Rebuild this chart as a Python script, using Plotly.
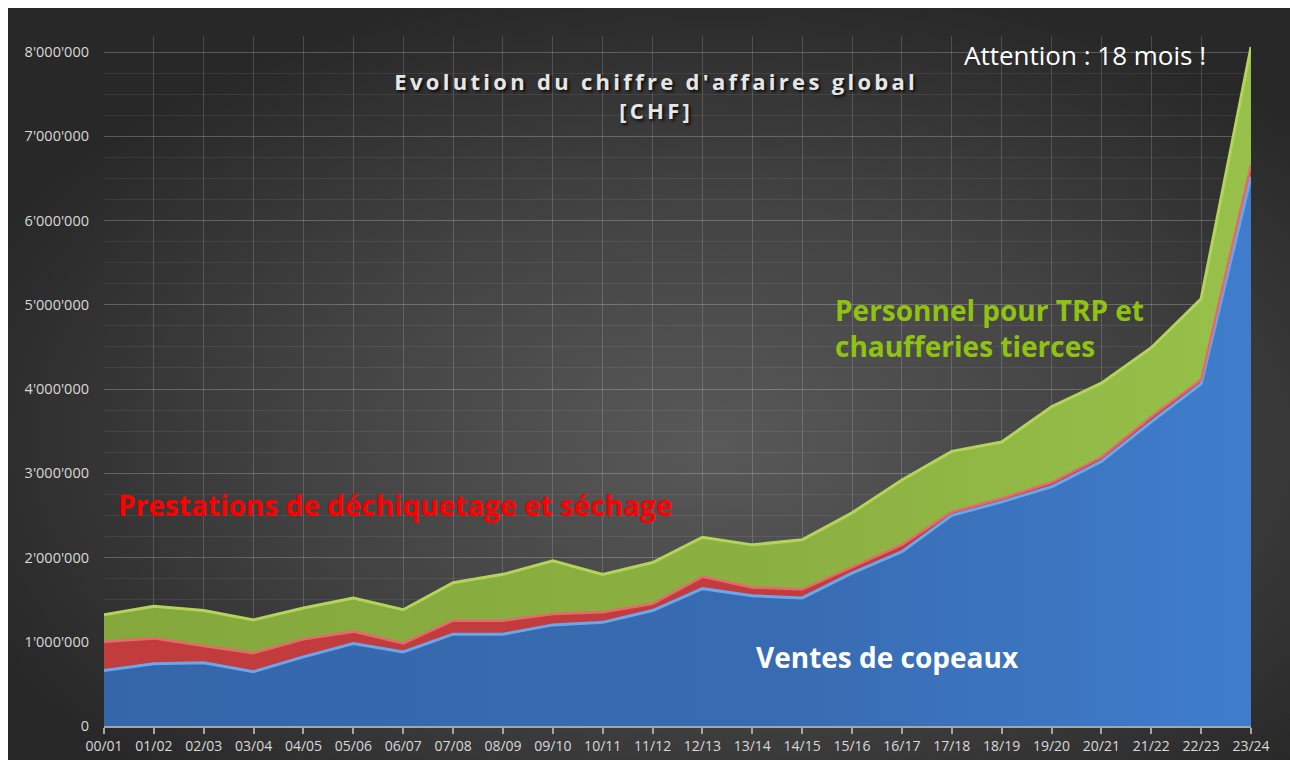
import base64
import plotly.graph_objects as go

# ---------------- data ----------------
seasons = ["00/01", "01/02", "02/03", "03/04", "04/05", "05/06", "06/07", "07/08",
           "08/09", "09/10", "10/11", "11/12", "12/13", "13/14", "14/15", "15/16",
           "16/17", "17/18", "18/19", "19/20", "20/21", "21/22", "22/23", "23/24"]

ventes_copeaux = [660000, 740000, 750000, 645000, 820000, 980000, 880000, 1090000,
                  1090000, 1200000, 1230000, 1370000, 1630000, 1545000, 1520000, 1815000,
                  2070000, 2500000, 2660000, 2840000, 3140000, 3610000, 4060000, 6520000]

prestations = [340000, 300000, 200000, 220000, 210000, 140000, 100000, 160000,
               160000, 130000, 120000, 80000, 140000, 100000, 100000, 70000,
               80000, 40000, 40000, 50000, 50000, 60000, 50000, 140000]

personnel = [320000, 380000, 420000, 395000, 370000, 400000, 400000, 450000,
             550000, 630000, 450000, 490000, 470000, 505000, 590000, 645000,
             770000, 720000, 670000, 900000, 880000, 820000, 960000, 1400000]

y_tickvals = [0, 1000000, 2000000, 3000000, 4000000, 5000000, 6000000, 7000000, 8000000]
y_ticktext = ["0", "1'000'000", "2'000'000", "3'000'000", "4'000'000",
              "5'000'000", "6'000'000", "7'000'000", "8'000'000"]

# ---------------- geometry helpers (screen px of the 1290x760 page) ----------------
W, H = 1290, 760
RL, RR, RT, RB = 104, 1251, 36, 726  # plot area


def px(x):
    return (x - RL) / (RR - RL)


def py(y):
    return (RB - y) / (RB - RT)


# radial gradient background (dark slide look), starting 8px from top/left
svg = ("<svg xmlns='http://www.w3.org/2000/svg' width='1282' height='752'>"
       "<defs><radialGradient id='g' cx='55%' cy='58%' r='62%'>"
       "<stop offset='0%' stop-color='#595959'/>"
       "<stop offset='55%' stop-color='#414141'/>"
       "<stop offset='100%' stop-color='#282828'/>"
       "</radialGradient></defs>"
       "<rect width='100%' height='100%' fill='url(#g)'/></svg>")
bg_src = "data:image/svg+xml;base64," + base64.b64encode(svg.encode()).decode()

fig = go.Figure()

fig.add_trace(go.Scatter(
    x=seasons, y=ventes_copeaux, stackgroup="one", mode="lines",
    name="Ventes de copeaux",
    line=dict(color="#6aa6ea", width=3),
    fillcolor="#386aae",
    fillgradient=dict(type="horizontal",
                      colorscale=[[0, "#3566aa"], [0.6, "#386cb2"], [1, "#3f7dcc"]]),
))
fig.add_trace(go.Scatter(
    x=seasons, y=prestations, stackgroup="one", mode="lines",
    name="Prestations de déchiquetage et séchage",
    line=dict(color="#e56a6a", width=2.5),
    fillcolor="#c23c3e",
))
fig.add_trace(go.Scatter(
    x=seasons, y=personnel, stackgroup="one", mode="lines",
    name="Personnel pour TRP et chaufferies tierces",
    line=dict(color="#b3d35a", width=3),
    fillcolor="#8aae3f",
    fillgradient=dict(type="horizontal",
                      colorscale=[[0, "#85a83d"], [0.6, "#8cb041"], [1, "#97c14a"]]),
))

FONT = "Open Sans"
shadow = "2px 2px 3px rgba(0,0,0,0.8)"

base = dict(xref="paper", yref="paper", showarrow=False)
annotations = [
    dict(text="<b>Evolution du chiffre d'affaires global<br>[CHF]</b>",
         x=px(656), y=py(95), xanchor="center", yanchor="middle",
         font=dict(family=FONT, size=22, color="#e6e6e6", shadow=shadow),
         align="center", **base),
    dict(text="Attention : 18 mois !",
         x=px(962), y=py(55), xanchor="left", yanchor="middle",
         font=dict(family=FONT, size=26, color="#ffffff"), **base),
    dict(text="<b>Personnel pour TRP et<br>chaufferies tierces</b>",
         x=px(833), y=py(328), xanchor="left", yanchor="middle",
         font=dict(family=FONT, size=28, color="#90c30f"),
         align="left", **base),
    dict(text="<b>Prestations de déchiquetage et séchage</b>",
         x=px(116), y=py(505), xanchor="left", yanchor="middle",
         font=dict(family=FONT, size=28, color="#ff0000"), **base),
    dict(text="<b>Ventes de copeaux</b>",
         x=px(754), y=py(657), xanchor="left", yanchor="middle",
         font=dict(family=FONT, size=28, color="#ffffff"), **base),
]

fig.update_layout(
    width=W, height=H,
    margin=dict(l=RL, r=W - RR, t=RT, b=H - RB, pad=0),
    paper_bgcolor="#ffffff",
    plot_bgcolor="rgba(0,0,0,0)",
    showlegend=False,
    hovermode=False,
    font=dict(family=FONT, color="#d9d9d9"),
    images=[dict(source=bg_src, xref="paper", yref="paper",
                 x=px(8), y=py(8), sizex=(W - 8) / (RR - RL), sizey=(H - 8) / (RB - RT),
                 xanchor="left", yanchor="top", sizing="stretch", layer="below")],
    annotations=annotations,
    xaxis=dict(
        type="category", range=[0, len(seasons) - 1], automargin=False,
        showgrid=True, gridcolor="rgba(255,255,255,0.16)", gridwidth=1,
        ticks="outside", ticklen=6, tickcolor="#a6a6a6", tickwidth=1.5,
        showline=True, linecolor="#a6a6a6", linewidth=2,
        tickfont=dict(family=FONT, size=14, color="#d9d9d9"),
        zeroline=False, fixedrange=True,
    ),
    yaxis=dict(
        range=[0, 8190000], automargin=False,
        tickvals=y_tickvals, ticktext=y_ticktext,
        showgrid=True, gridcolor="rgba(255,255,255,0.17)", gridwidth=1,
        minor=dict(dtick=250000, showgrid=True, gridcolor="rgba(255,255,255,0.07)", gridwidth=1),
        ticks="", showline=False, zeroline=False,
        tickfont=dict(family=FONT, size=14.5, color="#d9d9d9"),
        ticklabelstandoff=14, fixedrange=True,
    ),
)

# page without body margin; widen the title letter spacing like the original slide
post = ("document.body.style.margin='0';document.body.style.overflow='hidden';"
        "document.querySelectorAll('.annotation-text').forEach(function(t){"
        "if(t.textContent.indexOf('Evolution')===0){t.style.letterSpacing='3.3px';}});")

fig.write_html("out.html", post_script=post, config={"displayModeBar": False})
